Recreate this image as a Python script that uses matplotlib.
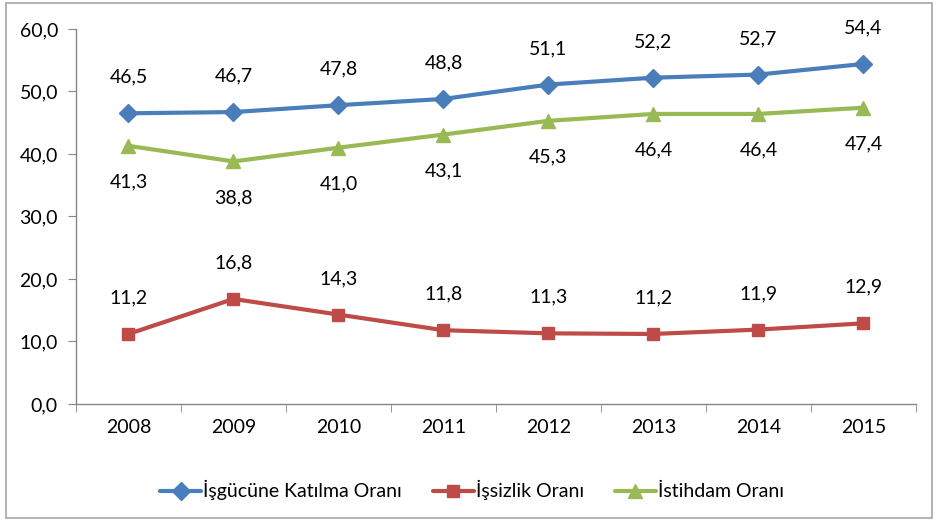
import matplotlib.pyplot as plt
from matplotlib.patches import Rectangle

# ------------------------- Data -------------------------
years = ["2008", "2009", "2010", "2011", "2012", "2013", "2014", "2015"]
katilma = [46.5, 46.7, 47.8, 48.8, 51.1, 52.2, 52.7, 54.4]
issizlik = [11.2, 16.8, 14.3, 11.8, 11.3, 11.2, 11.9, 12.9]
istihdam = [41.3, 38.8, 41.0, 43.1, 45.3, 46.4, 46.4, 47.4]

series = [
    ("İşgücüne Katılma Oranı", katilma, "#4A7EBB", "D", 9.5, 1),
    ("İşsizlik Oranı", issizlik, "#BE4B48", "s", 9, 1),
    ("İstihdam Oranı", istihdam, "#98B954", "^", 10.5, -1),
]

def fmt(v):
    return f"{v:.1f}".replace(".", ",")

plt.rcParams["font.family"] = ["Lato", "DejaVu Sans"]

fig = plt.figure(figsize=(9.38, 5.26), dpi=100)
ax = fig.add_axes([0.081, 0.232, 0.8955, 0.713])

x = list(range(len(years)))
for name, vals, color, marker, ms, side in series:
    ax.plot(x, vals, color=color, lw=3, marker=marker, markersize=ms,
            label=name, solid_capstyle="round")
    for xi, v in zip(x, vals):
        ax.annotate(fmt(v), (xi, v), xytext=(0, 26 * side), textcoords="offset points",
                    ha="center", va="center", fontsize=14, color="black")

ax.set_xlim(-0.5, len(years) - 0.5)
ax.set_ylim(0, 60)
ax.set_yticks(range(0, 61, 10))
ax.set_yticklabels([fmt(v) for v in range(0, 61, 10)], fontsize=14)
ax.set_xticks(x)
ax.set_xticklabels(years, fontsize=14)
ax.set_xticks([i - 0.5 for i in range(len(years) + 1)], minor=True)
ax.tick_params(axis="x", which="major", length=0, pad=11)
ax.tick_params(axis="x", which="minor", length=6, color="#868686")
ax.tick_params(axis="y", length=6, color="#868686", pad=7)

for s in ["top", "right"]:
    ax.spines[s].set_visible(False)
for s in ["left", "bottom"]:
    ax.spines[s].set_color("#868686")
    ax.spines[s].set_linewidth(1)

ax.legend(loc="center", bbox_to_anchor=(0.503, 0.068), bbox_transform=fig.transFigure,
          ncol=3, frameon=False, fontsize=14, handlelength=2.1, handletextpad=0.1,
          columnspacing=1.6)

fig.patches.append(Rectangle((0.006, 0.015), 0.988, 0.98, transform=fig.transFigure,
                             fill=False, edgecolor="#A6A6A6", lw=1.2))

fig.savefig("out.png", dpi=100)
